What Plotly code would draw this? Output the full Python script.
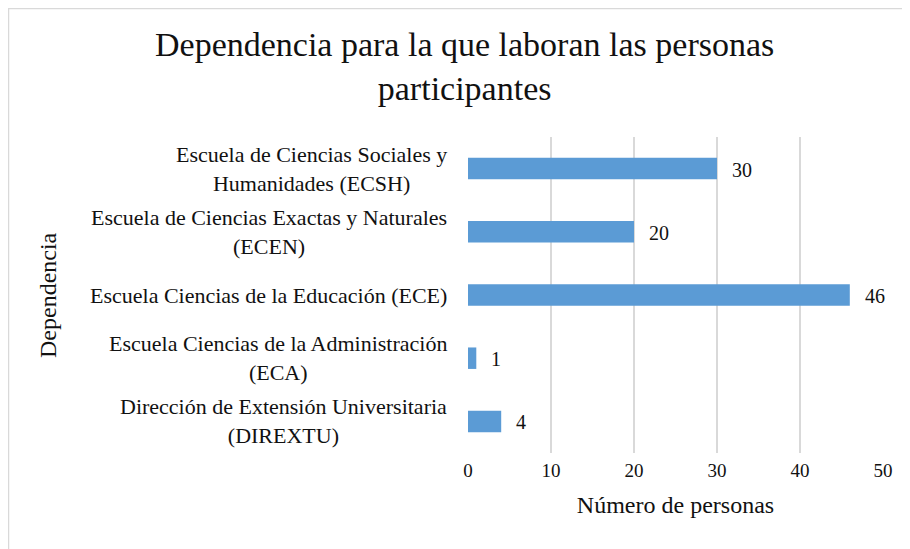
import plotly.graph_objects as go

# top to bottom, as drawn
dependencias = [
    "Escuela de Ciencias Sociales y<br>Humanidades (ECSH)",
    "Escuela de Ciencias Exactas y Naturales<br>(ECEN)",
    "Escuela Ciencias de la Educación (ECE)",
    "Escuela Ciencias de la Administración<br>(ECA)",
    "Dirección de Extensión Universitaria<br>(DIREXTU)",
]
personas = [30, 20, 46, 1, 4]
x_ticks = [0, 10, 20, 30, 40, 50]

FONT = "Liberation Serif"
BAR_COLOR = "#5B9BD5"
GRID_COLOR = "#D9D9D9"
TEXT_COLOR = "#111111"

# the page body adds an 8px offset, so the figure is 8px smaller each way
W, H = 902, 541
L, R, T, B = 460, 27, 129, 96
PW, PH = W - L - R, H - T - B


def px_x(px):
    return (px - L) / PW


def px_y(py):
    return (H - B - py) / PH


fig = go.Figure(
    go.Bar(
        x=personas,
        y=dependencias,
        orientation="h",
        marker=dict(color=BAR_COLOR, line=dict(width=0)),
        showlegend=False,
        hoverinfo="x+y",
    )
)

# value labels just past each bar end
for name, val in zip(dependencias, personas):
    fig.add_annotation(
        x=val, y=name, xref="x", yref="y",
        text=str(val), showarrow=False,
        xanchor="left", xshift=13, yshift=-1,
        font=dict(family=FONT, size=20, color=TEXT_COLOR),
    )

# category labels, each line centred like the original
for name in dependencias:
    fig.add_annotation(
        x=0, y=name, xref="paper", yref="y",
        text=name, showarrow=False, align="center",
        xanchor="right", xshift=-19,
        font=dict(family=FONT, size=22, color=TEXT_COLOR),
    )

fig.add_annotation(
    x=px_x(40), y=0.5, xref="paper", yref="paper",
    text="Dependencia", textangle=-90, showarrow=False,
    xanchor="center", yanchor="middle",
    font=dict(family=FONT, size=24, color=TEXT_COLOR),
)

# chart title
fig.add_annotation(
    x=px_x(456), y=px_y(16), xref="paper", yref="paper",
    text="Dependencia para la que laboran las personas<br>participantes",
    showarrow=False, align="center", xanchor="center", yanchor="top",
    font=dict(family=FONT, size=34, color=TEXT_COLOR),
)

# light frame around the chart area
fig.add_shape(
    type="rect", xref="paper", yref="paper",
    x0=px_x(0.5), x1=px_x(W + 40),
    y0=px_y(H + 40), y1=px_y(0.5),
    line=dict(color="#D9D9D9", width=1.5), fillcolor="rgba(0,0,0,0)",
    layer="below",
)

fig.update_layout(
    width=W,
    height=H,
    paper_bgcolor="white",
    plot_bgcolor="white",
    margin=dict(l=L, r=R, t=T, b=B),
    bargap=0.66,
    font=dict(family=FONT, color=TEXT_COLOR),
    xaxis=dict(
        range=[0, 50],
        tickvals=x_ticks,
        showgrid=True, gridcolor=GRID_COLOR, gridwidth=1.5,
        zeroline=False, showline=False, ticks="",
        ticklabelstandoff=4,
        tickfont=dict(family=FONT, size=19, color=TEXT_COLOR),
        title=dict(text="Número de personas", standoff=16,
                   font=dict(family=FONT, size=24, color=TEXT_COLOR)),
    ),
    yaxis=dict(
        autorange="reversed",
        showticklabels=False, showgrid=False, zeroline=False,
        showline=False, ticks="",
    ),
)

fig.write_html("out.html")
